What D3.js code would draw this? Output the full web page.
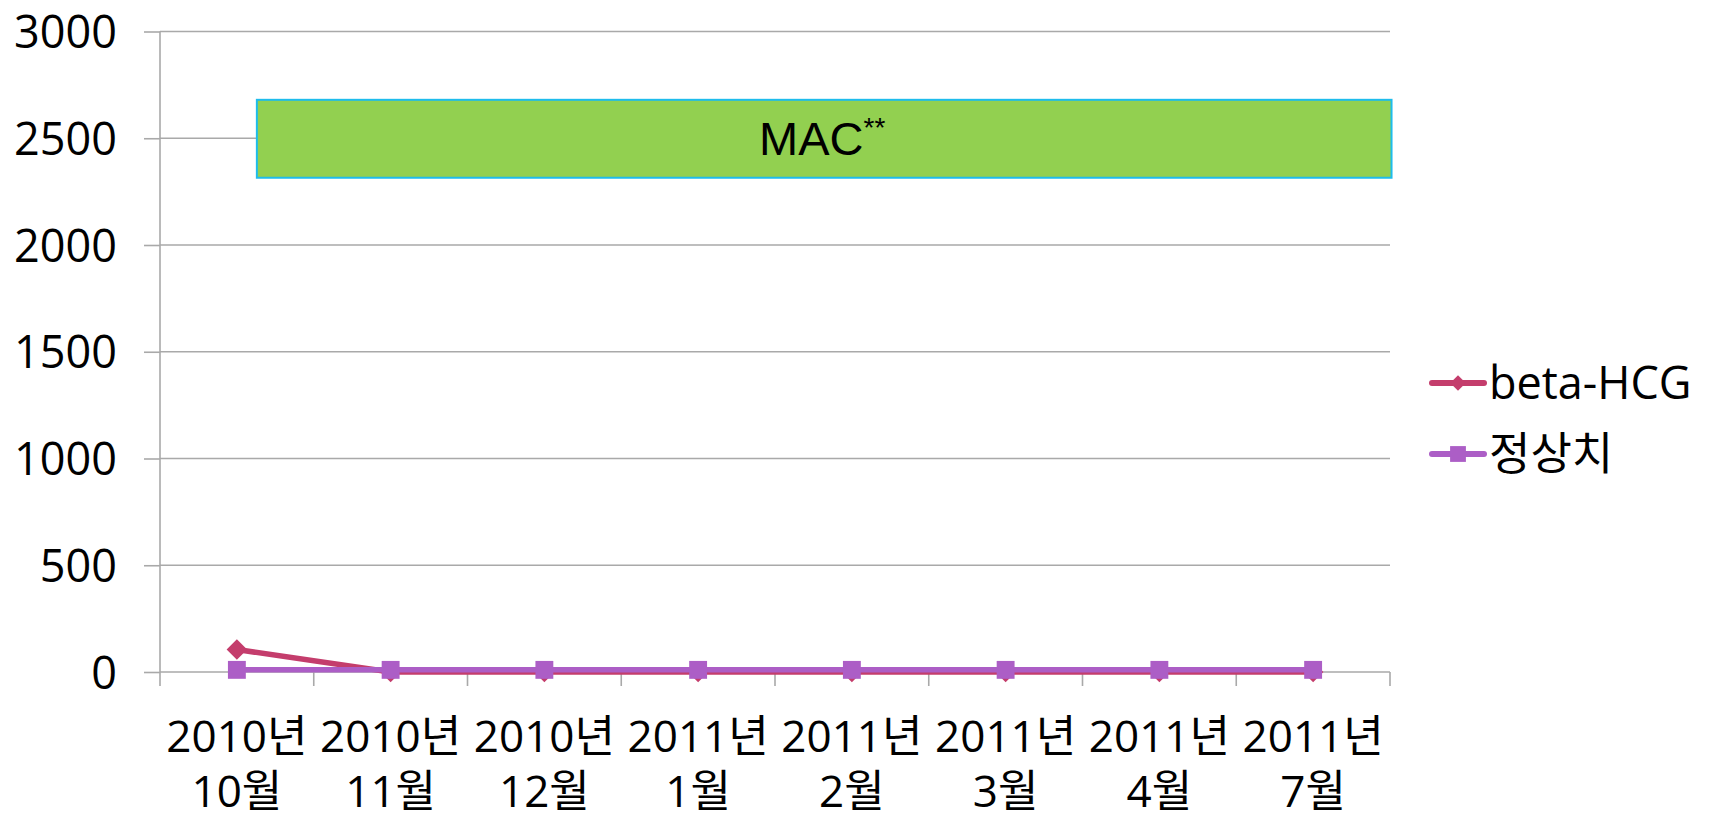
<!DOCTYPE html>
<html>
<head>
<meta charset="utf-8">
<script src="https://cdn.jsdelivr.net/npm/d3@7"></script>
<style>
  html, body { margin: 0; padding: 0; background: #ffffff; }
  svg { display: block; }
</style>
</head>
<body>
<svg id="chart" width="1711" height="821"></svg>
<script>
// ---- data ----
const categoriesYear = ["2010년", "2010년", "2010년", "2011년", "2011년", "2011년", "2011년", "2011년"];
const categoriesMonth = ["10월", "11월", "12월", "1월", "2월", "3월", "4월", "7월"];
const betaHCG = [105, 0, 0, 0, 0, 0, 0, 0];
const normalValue = [10, 10, 10, 10, 10, 10, 10, 10];
const yTicks = [0, 500, 1000, 1500, 2000, 2500, 3000];
const seriesNames = ["beta-HCG", "정상치"];
const macLabel = "MAC";
const macSup = "**";
// annotation box in data coordinates (category-index units, y values)
const macIdxStart = 0.63, macIdxEnd = 8.01;
const macValLow = 2315, macValHigh = 2680;

(function () {
// ---- layout ----
const svg = d3.select("#chart");
const mLeft = 160, mRight = 1390, mTop = 31.5, mBottom = 672;
const fontLatin = "'Open Sans', 'Noto Sans CJK KR', sans-serif";
const gridColor = "#a9a9a9";
const colBeta = "#c43d6c";
const colNorm = "#ac5ec6";

const cats = categoriesMonth.map((m, i) => i);
const x = d3.scaleBand().domain(cats).range([mLeft, mRight]).padding(0);
const xIdx = d3.scaleLinear().domain([0, cats.length]).range([mLeft, mRight]);
const y = d3.scaleLinear().domain([0, 3000]).range([mBottom, mTop]);

// gridlines + y ticks
const yAxis = d3.axisLeft(y).tickValues(yTicks).tickSize(16).tickPadding(27).tickFormat(d3.format("d"));
const gY = svg.append("g").attr("transform", `translate(${mLeft},0)`).call(yAxis);
gY.select(".domain").remove();
gY.selectAll(".tick line").attr("stroke", gridColor).attr("stroke-width", 1.6);
gY.selectAll(".tick text").attr("font-family", fontLatin).attr("font-size", 45).attr("fill", "#000").attr("dy", "0.36em");

svg.append("g").selectAll("line").data(yTicks).join("line")
  .attr("x1", mLeft).attr("x2", mRight)
  .attr("y1", d => y(d)).attr("y2", d => y(d))
  .attr("stroke", gridColor).attr("stroke-width", 1.6);

// y axis line
svg.append("line").attr("x1", mLeft).attr("x2", mLeft).attr("y1", y(3000)).attr("y2", y(0))
  .attr("stroke", gridColor).attr("stroke-width", 1.6);

// x axis ticks at band boundaries
const boundaries = d3.range(cats.length + 1);
svg.append("g").selectAll("line").data(boundaries).join("line")
  .attr("x1", d => xIdx(d)).attr("x2", d => xIdx(d))
  .attr("y1", y(0)).attr("y2", y(0) + 14)
  .attr("stroke", gridColor).attr("stroke-width", 1.6);

// x labels
const xl = svg.append("g");
cats.forEach(i => {
  const cx = x(i) + x.bandwidth() / 2;
  const t = xl.append("text").attr("x", cx).attr("text-anchor", "middle")
    .attr("font-family", fontLatin).attr("font-size", 44).attr("fill", "#000");
  t.append("tspan").attr("x", cx).attr("y", 752).text(categoriesYear[i]);
  t.append("tspan").attr("x", cx).attr("y", 807).text(categoriesMonth[i]);
});

// MAC box
svg.append("rect")
  .attr("x", xIdx(macIdxStart)).attr("y", y(macValHigh))
  .attr("width", xIdx(macIdxEnd) - xIdx(macIdxStart))
  .attr("height", y(macValLow) - y(macValHigh))
  .attr("fill", "#92d050").attr("stroke", "#1ebcec").attr("stroke-width", 2);
const mac = svg.append("text")
  .attr("x", (xIdx(macIdxStart) + xIdx(macIdxEnd)) / 2 - 2)
  .attr("y", 155).attr("text-anchor", "middle")
  .attr("font-family", "'Liberation Sans', Arial, sans-serif").attr("font-size", 47).attr("fill", "#000");
mac.append("tspan").text(macLabel);
mac.append("tspan").attr("font-size", 28).attr("dy", -18).text(macSup);

// lines
const line = d3.line().x((d, i) => x(i) + x.bandwidth() / 2).y(d => y(d));
const square = d3.symbol().type(d3.symbolSquare).size(320);

svg.append("path").datum(betaHCG).attr("d", line)
  .attr("fill", "none").attr("stroke", colBeta).attr("stroke-width", 5.5).attr("stroke-linejoin", "round");
svg.append("g").selectAll("path").data(betaHCG).join("path")
  .attr("transform", (d, i) => `translate(${x(i) + x.bandwidth() / 2},${y(d)}) rotate(45)`)
  .attr("d", d3.symbol().type(d3.symbolSquare).size(210)).attr("fill", colBeta);

svg.append("path").datum(normalValue).attr("d", line)
  .attr("fill", "none").attr("stroke", colNorm).attr("stroke-width", 5.5).attr("stroke-linejoin", "round");
svg.append("g").selectAll("path").data(normalValue).join("path")
  .attr("transform", (d, i) => `translate(${x(i) + x.bandwidth() / 2},${y(d)})`)
  .attr("d", square).attr("fill", colNorm);

// legend
const legend = svg.append("g");
const legendItems = [
  { name: seriesNames[0], color: colBeta, type: "diamond", yy: 383 },
  { name: seriesNames[1], color: colNorm, type: "square", yy: 454 }
];
legendItems.forEach(it => {
  legend.append("line").attr("x1", 1432).attr("x2", 1484).attr("y1", it.yy).attr("y2", it.yy)
    .attr("stroke", it.color).attr("stroke-width", 6).attr("stroke-linecap", "round");
  const sym = it.type === "diamond"
    ? d3.symbol().type(d3.symbolSquare).size(120)
    : d3.symbol().type(d3.symbolSquare).size(250);
  legend.append("path").attr("d", sym)
    .attr("transform", `translate(1458,${it.yy})` + (it.type === "diamond" ? " rotate(45)" : ""))
    .attr("fill", it.color);
  legend.append("text").attr("x", 1489).attr("y", it.yy + 16)
    .attr("font-family", fontLatin).attr("font-size", 45).attr("fill", "#000").text(it.name);
});
})();
</script>
</body>
</html>
